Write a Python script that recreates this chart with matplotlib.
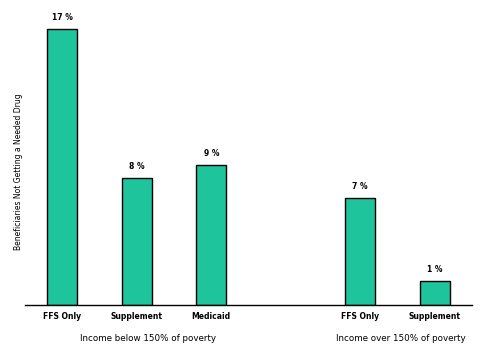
import matplotlib
matplotlib.use("Agg")
import matplotlib.pyplot as plt

categories = ["FFS Only", "Supplement", "Medicaid", "FFS Only", "Supplement"]
positions = [0, 1, 2, 4, 5]
values = [17.0, 7.8, 8.6, 6.6, 1.5]
value_labels = ["17 %", "8 %", "9 %", "7 %", "1 %"]
groups = ["Income below 150% of poverty", "Income over 150% of poverty"]
group_centers = [1.15, 4.55]
ylabel = "Beneficiaries Not Getting a Needed Drug"

fig = plt.figure(figsize=(4.8, 3.6), dpi=100)
ax = fig.add_axes([25/480, 55/360, 447/480, 295/360])
ax.bar(positions, values, width=0.4, color="#1EC49C", edgecolor="black", linewidth=1.0, zorder=2)
ax.set_xlim(-0.5, 5.5)
ax.set_ylim(0, 17 * 295 / 276)
for s in ["top", "right", "left"]:
    ax.spines[s].set_visible(False)
ax.spines["bottom"].set_linewidth(1.0)
ax.set_yticks([])
ax.set_xticks(positions)
ax.set_xticklabels(categories, fontsize=5.5, fontweight="bold")
ax.tick_params(axis="x", length=0, pad=5)
for p, v, lab in zip(positions, values, value_labels):
    ax.annotate(lab, (p, v), xytext=(0, 5), textcoords="offset points",
                ha="center", va="bottom", fontsize=5.5, fontweight="bold")
for g, c in zip(groups, group_centers):
    ax.annotate(g, (c, 0), xycoords=("data", "data"), xytext=(0, -24),
                textcoords="offset points", ha="center", va="center", fontsize=6.3)
fig.text(19/480, 1 - 172/360, ylabel, rotation=90, ha="center", va="center", fontsize=5.5)
fig.savefig("out.png", dpi=100, facecolor="white")
